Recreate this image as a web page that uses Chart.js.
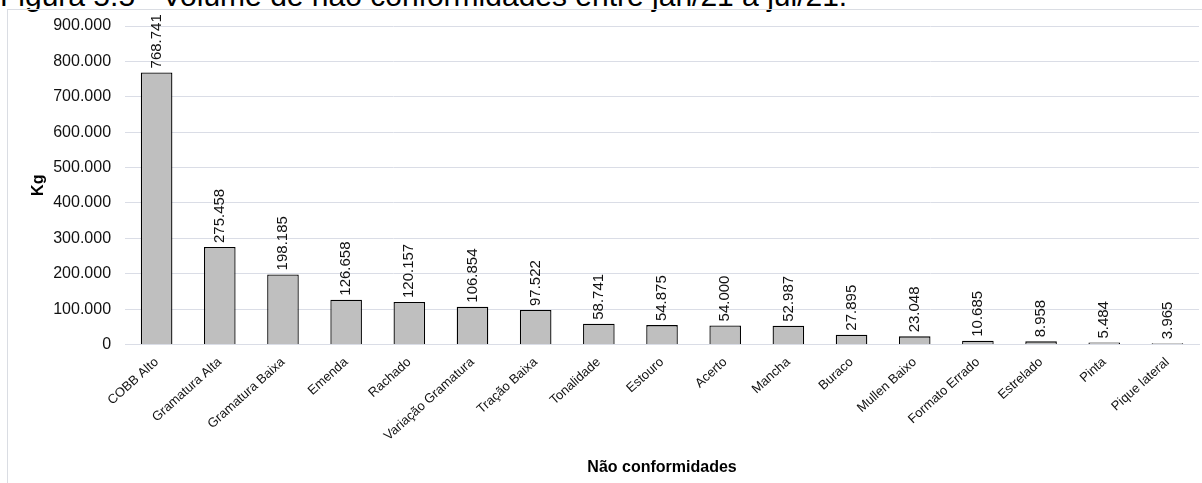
<!DOCTYPE html>
<html>
<head>
<meta charset="utf-8">
<script src="https://cdn.jsdelivr.net/npm/chart.js@4/dist/chart.umd.min.js"></script>
<style>
  html, body { margin: 0; padding: 0; background: #fff; overflow: hidden; }
  #frame { position: absolute; left: 7px; top: 9px; width: 1300px; height: 600px;
           border-left: 1px solid #dadde3; border-top: 1px solid #dadde3; }
  #title { position: absolute; left: 0; top: -19px; font: 30px/30px Arial, "Liberation Sans", sans-serif;
           color: #000; white-space: nowrap; }
  #wrap { position: absolute; left: 0; top: 0; width: 1202px; height: 483px; }
</style>
</head>
<body>
<div id="title">Figura 5.5 - Volume de não conformidades entre jan/21 a jul/21.</div>
<div id="frame"></div>
<div id="wrap"><canvas id="myChart"></canvas></div>
<script>
var categorias = ['COBB Alto', 'Gramatura Alta', 'Gramatura Baixa', 'Emenda', 'Rachado',
	'Variação Gramatura', 'Tração Baixa', 'Tonalidade', 'Estouro', 'Acerto', 'Mancha',
	'Buraco', 'Mullen Baixo', 'Formato Errado', 'Estrelado', 'Pinta', 'Pique lateral'];
var volumeKg = [768741, 275458, 198185, 126658, 120157, 106854, 97522, 58741, 54875,
	54000, 52987, 27895, 23048, 10685, 8958, 5484, 3965];
var escalaY = [0, 100000, 200000, 300000, 400000, 500000, 600000, 700000, 800000, 900000];

var FONTE = 'Arial, "Liberation Sans", sans-serif';

function milhar(v) {
	return String(v).replace(/\B(?=(\d{3})+(?!\d))/g, '.');
}

// rotulos verticais em cima das barras
var rotulos = {
	id: 'rotulos',
	afterDatasetsDraw: function(chart) {
		var ctx = chart.ctx;
		var meta = chart.getDatasetMeta(0);
		ctx.save();
		ctx.font = '15px ' + FONTE;
		ctx.fillStyle = '#111';
		ctx.textAlign = 'left';
		ctx.textBaseline = 'middle';
		meta.data.forEach(function(bar, i) {
			ctx.save();
			ctx.translate(bar.x, bar.y - 4);
			ctx.rotate(-Math.PI / 2);
			ctx.fillText(milhar(volumeKg[i]), 0, 0);
			ctx.restore();
		});
		ctx.restore();
	}
};

var ctx = document.getElementById("myChart").getContext('2d');
var myChart = new Chart(ctx, {
	type: 'bar',
	data: {
		labels: categorias,
		datasets: [{
			label: 'Kg',
			data: volumeKg,
			backgroundColor: '#bfbfbf',
			borderColor: '#000',
			borderWidth: 1.3,
			barPercentage: 0.5,
			categoryPercentage: 1
		}]
	},
	options: {
		responsive: true,
		maintainAspectRatio: false,
		animation: false,
		layout: { padding: { top: 26, right: 3, left: 29, bottom: 6 } },
		plugins: { legend: { display: false }, tooltip: { enabled: false } },
		scales: {
			y: {
				min: 0, max: 900000,
				afterBuildTicks: function(axis) {
					axis.ticks = escalaY.map(function(v) { return { value: v }; });
				},
				grid: { color: '#dadde6', drawTicks: false },
				border: { display: false },
				ticks: {
					padding: 14,
					color: '#111',
					font: { family: FONTE, size: 16 },
					callback: function(v) { return milhar(v); }
				},
				title: {
					display: true, text: 'Kg', color: '#000',
					font: { family: FONTE, size: 16, weight: 'bold' },
					padding: { top: 0, bottom: -9 }
				}
			},
			x: {
				grid: { display: false },
				border: { color: '#dadde6' },
				ticks: {
					color: '#111', maxRotation: 42, minRotation: 42, autoSkip: false,
					font: { family: FONTE, size: 13 }, padding: 2
				},
				title: {
					display: true, text: 'Não conformidades', color: '#000',
					font: { family: FONTE, size: 16, weight: 'bold' },
					padding: { top: 12, bottom: 0 }
				}
			}
		}
	},
	plugins: [rotulos]
});
</script>
</body>
</html>
